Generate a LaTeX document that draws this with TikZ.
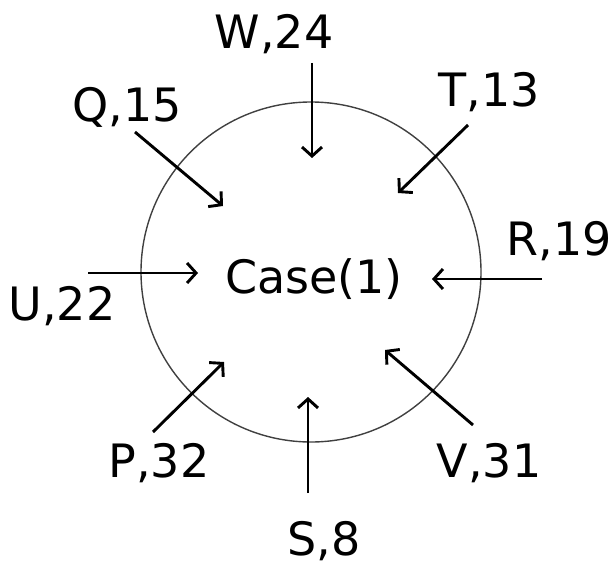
\documentclass[tikz,border=0pt]{standalone}
\usepackage{fontspec}
\setmainfont{DejaVu Sans}
\usetikzlibrary{arrows.meta}
\begin{document}
\begin{tikzpicture}[x=1pt,y=-1pt,
  lbl/.style={anchor=base,inner sep=0pt,font=\fontsize{46}{46}\selectfont},
  arr/.style={line width=2.9pt,-{Straight Barb[length=9pt,width=20pt,line width=2.9pt]}},
  ring/.style={draw=black!75,line width=1.4pt}]
\useasboundingbox (0,0) rectangle (615,564);
\node[ring,circle,minimum size=340pt,inner sep=0pt] (c) at (311,272) {};
\node[lbl] (case) at (314,293) {Case(1)};
\node[lbl] (w) at (274,49) {W,24};
\node[lbl] (q) at (127,122) {Q,15};
\node[lbl] (t) at (489,107) {T,13};
\node[lbl] (u) at (62,320) {U,22};
\node[lbl] (r) at (559,255) {R,19};
\node[lbl] (p) at (159,477) {P,32};
\node[lbl] (v) at (489,477) {V,31};
\node[lbl] (s) at (324,555) {S,8};
\coordinate (w0) at (312,63);  \coordinate (w1) at (312,158);
\coordinate (q0) at (135,132); \coordinate (q1) at (223,206);
\coordinate (t0) at (468,125); \coordinate (t1) at (398,193);
\coordinate (u0) at (88,273);  \coordinate (u1) at (198,273);
\coordinate (r0) at (542,279); \coordinate (r1) at (432,279);
\coordinate (p0) at (153,432); \coordinate (p1) at (224,362);
\coordinate (v0) at (473,425); \coordinate (v1) at (385,350);
\coordinate (s0) at (308,493); \coordinate (s1) at (308,397);
\foreach \a in {w,q,t,u,r,p,v,s}{\draw[arr] (\a0) -- (\a1);}
\end{tikzpicture}
\end{document}
